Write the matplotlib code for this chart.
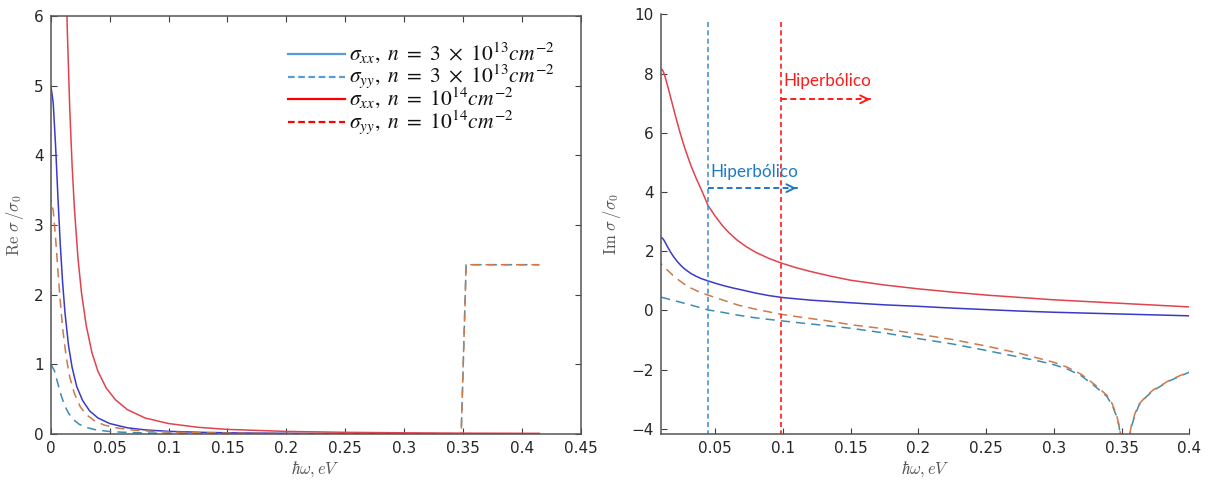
import matplotlib.pyplot as plt
from matplotlib.font_manager import FontProperties

# Real part, sigma/sigma0 against photon energy (eV)
w_re_xx_lo = [0, 0.002, 0.004, 0.006, 0.008, 0.010, 0.012, 0.015, 0.018, 0.022, 0.027, 0.033,
              0.040, 0.050, 0.065, 0.080, 0.100, 0.130, 0.160, 0.200, 0.250, 0.300, 0.350, 0.415]
re_xx_lo = [5.00, 4.75, 4.14, 3.40, 2.72, 2.17, 1.74, 1.27, 0.96, 0.68, 0.48, 0.33,
            0.23, 0.15, 0.089, 0.059, 0.038, 0.023, 0.015, 0.010, 0.006, 0.004, 0.003, 0.002]

w_re_yy_lo = [0, 0.003, 0.006, 0.009, 0.012, 0.015, 0.019, 0.024, 0.030, 0.038, 0.048, 0.060,
              0.080, 0.100, 0.140, 0.200, 0.250, 0.300, 0.3486, 0.3528, 0.415]
re_yy_lo = [1.00, 0.91, 0.72, 0.54, 0.40, 0.30, 0.21, 0.14, 0.095, 0.061, 0.039, 0.026,
            0.015, 0.009, 0.005, 0.002, 0.0015, 0.001, 0.001, 2.43, 2.43]

w_re_xx_hi = [0.010, 0.012, 0.014, 0.016, 0.018, 0.020, 0.023, 0.026, 0.030, 0.035, 0.040, 0.047,
              0.055, 0.065, 0.080, 0.100, 0.125, 0.150, 0.200, 0.250, 0.300, 0.350, 0.415]
re_xx_hi = [9.17, 7.23, 5.78, 4.69, 3.87, 3.24, 2.53, 2.03, 1.56, 1.16, 0.90, 0.66,
            0.49, 0.35, 0.23, 0.15, 0.096, 0.066, 0.037, 0.024, 0.017, 0.012, 0.009]

w_re_yy_hi = [0, 0.002, 0.004, 0.006, 0.008, 0.010, 0.013, 0.016, 0.020, 0.025, 0.030, 0.037,
              0.045, 0.055, 0.070, 0.090, 0.120, 0.160, 0.200, 0.250, 0.300, 0.3486, 0.3528, 0.415]
re_yy_hi = [3.36, 3.21, 2.82, 2.34, 1.90, 1.52, 1.11, 0.82, 0.58, 0.39, 0.28, 0.19,
            0.13, 0.09, 0.056, 0.034, 0.019, 0.011, 0.007, 0.0045, 0.003, 0.002, 2.43, 2.43]

# Imaginary part
w_im_xx_lo = [0.010, 0.011, 0.012, 0.013, 0.015, 0.017, 0.019, 0.022, 0.025, 0.028, 0.032, 0.036,
              0.040, 0.0446, 0.050, 0.056, 0.063, 0.070, 0.080, 0.090, 0.100, 0.120, 0.150, 0.175,
              0.200, 0.225, 0.250, 0.275, 0.300, 0.325, 0.350, 0.375, 0.400]
im_xx_lo = [2.46, 2.44, 2.38, 2.30, 2.13, 1.97, 1.83, 1.65, 1.50, 1.38, 1.25, 1.15,
            1.07, 1.00, 0.92, 0.84, 0.76, 0.69, 0.585, 0.50, 0.435, 0.35, 0.26, 0.19,
            0.14, 0.08, 0.03, -0.02, -0.06, -0.09, -0.12, -0.15, -0.18]

w_im_xx_hi = [0.010, 0.011, 0.012, 0.013, 0.015, 0.017, 0.019, 0.021, 0.024, 0.027, 0.030, 0.033,
              0.036, 0.040, 0.0446, 0.050, 0.055, 0.060, 0.066, 0.073, 0.080, 0.090, 0.0988, 0.110,
              0.120, 0.135, 0.150, 0.175, 0.200, 0.225, 0.250, 0.275, 0.300, 0.325, 0.350, 0.375,
              0.400]
im_xx_hi = [8.15, 8.12, 8.02, 7.88, 7.55, 7.20, 6.85, 6.50, 6.00, 5.55, 5.15, 4.78,
            4.45, 4.05, 3.55, 3.18, 2.88, 2.63, 2.38, 2.15, 1.96, 1.75, 1.60, 1.44,
            1.32, 1.16, 1.02, 0.86, 0.73, 0.62, 0.52, 0.44, 0.36, 0.30, 0.24, 0.18,
            0.12]

w_im_yy = [0.010, 0.015, 0.020, 0.025, 0.030, 0.037, 0.0446, 0.055, 0.067, 0.080, 0.0988, 0.115,
           0.130, 0.150, 0.175, 0.200, 0.225, 0.250, 0.275, 0.290, 0.300, 0.310, 0.320, 0.330,
           0.339, 0.343, 0.346, 0.348, 0.3495, 0.352, 0.3555, 0.357, 0.360, 0.363, 0.368, 0.373,
           0.380, 0.3855, 0.393, 0.400]
im_yy_lo = [0.45, 0.39, 0.33, 0.27, 0.21, 0.12, 0.02, -0.06, -0.16, -0.25, -0.35, -0.43,
            -0.50, -0.60, -0.76, -0.95, -1.13, -1.35, -1.58, -1.72, -1.83, -1.98, -2.20, -2.55,
            -2.90, -3.20, -3.55, -3.90, -4.35, -6.0, -4.35, -3.95, -3.50, -3.18, -2.92, -2.71,
            -2.52, -2.37, -2.22, -2.08]
im_yy_hi = [1.58, 1.35, 1.13, 0.96, 0.80, 0.65, 0.52, 0.36, 0.18, 0.04, -0.13, -0.24,
            -0.33, -0.48, -0.62, -0.80, -0.98, -1.20, -1.45, -1.63, -1.75, -1.92, -2.15, -2.50,
            -2.86, -3.15, -3.50, -3.85, -4.30, -6.0, -4.30, -3.90, -3.45, -3.15, -2.90, -2.69,
            -2.50, -2.35, -2.20, -2.06]

# boundaries of the hyperbolic regime
w_hyp_lo = 0.0446
w_hyp_hi = 0.0988

legend_labels = [r'$\sigma_{xx},\ n\ =\ 3\ \times\ 10^{13}cm^{-2}$',
                 r'$\sigma_{yy},\ n\ =\ 3\ \times\ 10^{13}cm^{-2}$',
                 r'$\sigma_{xx},\ n\ =\ 10^{14}cm^{-2}$',
                 r'$\sigma_{yy},\ n\ =\ 10^{14}cm^{-2}$']
legend_colors = ['#5b9bd5', '#5b9bd5', '#ff0000', '#ff0000']
legend_styles = ['-', (0, (3, 1.6)), '-', (0, (3, 1.6))]

c_xx_lo = '#3a3ac8'
c_yy_lo = '#3c8cb4'
c_xx_hi = '#e0434e'
c_yy_hi = '#cc7a4a'
axis_col = '#555555'

plt.rcParams['font.family'] = 'DejaVu Sans'

fig = plt.figure(figsize=(12.11, 4.86), dpi=100)
ax1 = fig.add_axes([0.0420, 0.1070, 0.4374, 0.8601])
ax2 = fig.add_axes([0.5458, 0.1070, 0.4364, 0.8636])

lw = 1.1
ax1.plot(w_re_xx_lo, re_xx_lo, color=c_xx_lo, lw=lw)
ax1.plot(w_re_yy_lo, re_yy_lo, color=c_yy_lo, lw=lw, linestyle=(0, (6, 4)))
ax1.plot(w_re_xx_hi, re_xx_hi, color=c_xx_hi, lw=lw)
ax1.plot(w_re_yy_hi, re_yy_hi, color=c_yy_hi, lw=lw, linestyle=(5, (6, 4)))

ax1.set_xlim(0, 0.45)
ax1.set_ylim(0, 6)
ax1.set_xticks([0, 0.05, 0.1, 0.15, 0.2, 0.25, 0.3, 0.35, 0.4, 0.45])
ax1.set_xticklabels(['0', '0.05', '0.1', '0.15', '0.2', '0.25', '0.3', '0.35', '0.4', '0.45'])
ax1.set_yticks(range(0, 7))

ax2.plot(w_im_xx_lo, im_xx_lo, color=c_xx_lo, lw=lw)
ax2.plot(w_im_yy, im_yy_lo, color=c_yy_lo, lw=lw, linestyle=(0, (6, 4)))
ax2.plot(w_im_xx_hi, im_xx_hi, color=c_xx_hi, lw=lw)
ax2.plot(w_im_yy, im_yy_hi, color=c_yy_hi, lw=lw, linestyle=(5, (6, 4)))

ax2.set_xlim(0.0099, 0.4)
ax2.set_ylim(-4.17, 10)
ax2.set_xticks([0.05, 0.1, 0.15, 0.2, 0.25, 0.3, 0.35, 0.4])
ax2.set_xticklabels(['0.05', '0.1', '0.15', '0.2', '0.25', '0.3', '0.35', '0.4'])
ax2.set_yticks(range(-4, 11, 2))
ax2.spines['top'].set_visible(False)
ax2.spines['right'].set_visible(False)

# hyperbolic regime markers
ax2.plot([w_hyp_lo, w_hyp_lo], [9.75, -4.17], color='#4a90d9', lw=1.2, linestyle=(0, (3, 2)))
ax2.plot([w_hyp_hi, w_hyp_hi], [9.75, -4.17], color='#ff1a1a', lw=1.2, linestyle=(0, (3, 2)))
ax2.plot([w_hyp_lo, 0.111], [4.13, 4.13], color='#1f78c8', lw=1.4, linestyle=(0, (3, 1.8)))
ax2.annotate('', xy=(0.1119, 4.13), xytext=(0.105, 4.13),
             arrowprops=dict(arrowstyle='->', color='#1f78c8', lw=1.4, mutation_scale=14))
ax2.plot([w_hyp_hi, 0.1655], [7.13, 7.13], color='#ff1a1a', lw=1.4, linestyle=(0, (3, 1.8)))
ax2.annotate('', xy=(0.1664, 7.13), xytext=(0.159, 7.13),
             arrowprops=dict(arrowstyle='->', color='#ff1a1a', lw=1.4, mutation_scale=14))
ax2.text(0.0465, 4.67, 'Hiperbólico', color='#1f78c8', fontsize=12.3, family='Lato', va='center')
ax2.text(0.1005, 7.74, 'Hiperbólico', color='#ff1a1a', fontsize=12.3, family='Lato', va='center')

for ax in (ax1, ax2):
    ax.tick_params(direction='in', length=4, width=0.8, color='#404040',
                   labelsize=11, labelcolor='#262626', pad=5)
    for sp in ax.spines.values():
        sp.set_color(axis_col)
        sp.set_linewidth(1.1)
    ax.set_xlabel(r'$\hbar\omega, eV$', fontsize=12, color=axis_col, math_fontfamily='cm', labelpad=2)

ax1.tick_params(top=True, right=True)
ax1.set_ylabel(r'$\mathrm{Re}\ \sigma\,/\sigma_0$', fontsize=12, color=axis_col, math_fontfamily='cm', labelpad=6)
ax2.set_ylabel(r'$\mathrm{Im}\ \sigma\,/\sigma_0$', fontsize=12, color=axis_col, math_fontfamily='cm', labelpad=6)

# key drawn by hand in axes coordinates
key_font = FontProperties(size=15.5, math_fontfamily='stix')
key_rows = [0.909, 0.855, 0.801, 0.746]
for row, label, col, ls in zip(key_rows, legend_labels, legend_colors, legend_styles):
    ax1.plot([0.4476, 0.5552], [row, row], transform=ax1.transAxes, color=col, lw=1.6, linestyle=ls)
    ax1.text(0.5628, row - 0.014, label, transform=ax1.transAxes, fontproperties=key_font,
             va='baseline', ha='left', color='#111111')

fig.savefig('out.png', dpi=100)
